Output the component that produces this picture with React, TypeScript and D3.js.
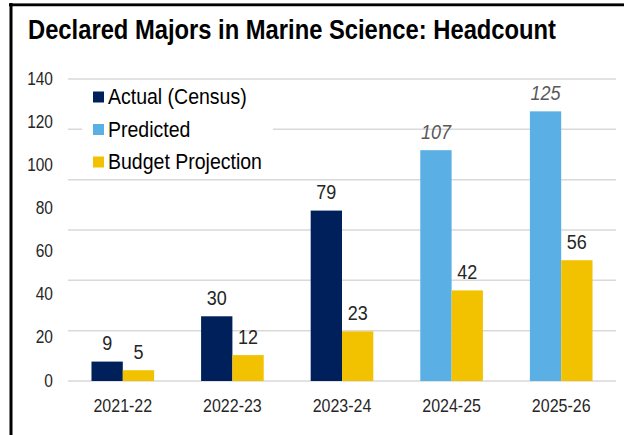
import React from "react";
import * as d3 from "d3";

const categories = ["2021-22", "2022-23", "2023-24", "2024-25", "2025-26"];
const actual: (number | null)[] = [9, 30, 79, null, null];
const predicted: (number | null)[] = [null, null, null, 107, 125];
const budget: number[] = [5, 12, 23, 42, 56];
const yTicks = [0, 20, 40, 60, 80, 100, 120, 140];
const legendItems = ["Actual (Census)", "Predicted", "Budget Projection"];

const W = 624;
const H = 435;
const NAVY = "#00205B";
const LIGHT = "#5AB0E5";
const GOLD = "#F2C200";
const FONT = "'Liberation Sans', Arial, sans-serif";
const SY = 1.17;

const T = ({ x, y, children, size, anchor = "middle", fill = "#262626", italic = false, bold = false, family = FONT, textLength }: any) => (
  <text
    transform={`translate(${x},${y}) scale(1,${SY})`}
    fontSize={size}
    textAnchor={anchor}
    fill={fill}
    fontStyle={italic ? "italic" : "normal"}
    fontWeight={bold ? "bold" : "normal"}
    fontFamily={family}
    textLength={textLength}
    lengthAdjust={textLength ? "spacingAndGlyphs" : undefined}
  >
    {children}
  </text>
);

export default function App() {
  const x = d3.scaleBand<string>().domain(categories).range([68, 616]).padding(0);
  const bw = x.bandwidth();
  const gw = bw / 1.75;
  const x1 = d3.scaleBand<string>().domain(["main", "budget"]).range([(bw - gw) / 2, (bw + gw) / 2]).padding(0);
  const y = d3.scaleLinear().domain([0, 140]).range([381, 79]);
  const [y0, y1] = y.range();
  const gridYs = d3.range(7).map((i) => y0 + (i * (y1 - y0)) / 6);

  const mainBars = categories.map((c, i) => {
    const isActual = actual[i] != null;
    const v = (isActual ? actual[i] : predicted[i]) as number;
    return { c, v, color: isActual ? NAVY : LIGHT, italic: !isActual };
  });

  return (
    <svg width={W} height={H} style={{ position: "absolute", left: 0, top: 0, background: "#fff" }}>
      <rect x={0} y={0} width={W} height={H} fill="#fff" />
      {/* frame */}
      <line x1={9} x2={W} y1={3.5} y2={3.5} stroke="#888" strokeWidth={1} />
      <line x1={9} x2={W} y1={5} y2={5} stroke="#000" strokeWidth={2.5} />
      <line x1={11} x2={11} y1={3} y2={H} stroke="#000" strokeWidth={3} />

      {/* title */}
      <T x={28} y={39} size={23} anchor="start" fill="#000" bold family="'Liberation Sans Narrow', 'Arial Narrow', 'Liberation Sans', sans-serif" textLength={528}>
        Declared Majors in Marine Science: Headcount
      </T>

      {/* gridlines */}
      {gridYs.map((gy, i) => (
        <line key={i} x1={68} x2={616} y1={gy} y2={gy} stroke="#D9D9D9" strokeWidth={1.5} />
      ))}

      {/* y tick labels */}
      {yTicks.map((t) => (
        <T key={t} x={53} y={y(t) + 5.5} size={15.5} anchor="end">
          {t}
        </T>
      ))}

      {/* bars */}
      {mainBars.map((b) => (
        <g key={b.c}>
          <rect x={(x(b.c) as number) + (x1("main") as number)} y={y(b.v)} width={x1.bandwidth()} height={y(0) - y(b.v)} fill={b.color} />
          <T x={(x(b.c) as number) + (x1("main") as number) + x1.bandwidth() / 2} y={y(b.v) - 11.5} size={18} italic={b.italic} fill={b.italic ? "#595959" : "#262626"}>
            {b.v}
          </T>
        </g>
      ))}
      {categories.map((c, i) => (
        <g key={c + "b"}>
          <rect x={(x(c) as number) + (x1("budget") as number)} y={y(budget[i])} width={x1.bandwidth()} height={y(0) - y(budget[i])} fill={GOLD} />
          <T x={(x(c) as number) + (x1("budget") as number) + x1.bandwidth() / 2} y={y(budget[i]) - 11.5} size={18}>
            {budget[i]}
          </T>
        </g>
      ))}

      {/* x tick labels */}
      {categories.map((c) => (
        <T key={c} x={(x(c) as number) + bw / 2} y={412} size={16}>
          {c}
        </T>
      ))}

      {/* legend */}
      <rect x={82} y={82} width={191} height={94} fill="#fff" />
      {legendItems.map((name, i) => {
        const cy = 97 + i * 32.5;
        return (
          <g key={name}>
            <rect x={93} y={cy - 5.5} width={11} height={11} fill={[NAVY, LIGHT, GOLD][i]} />
            <T x={108} y={cy + 7} size={19.5} anchor="start" fill="#000">
              {name}
            </T>
          </g>
        );
      })}
    </svg>
  );
}
